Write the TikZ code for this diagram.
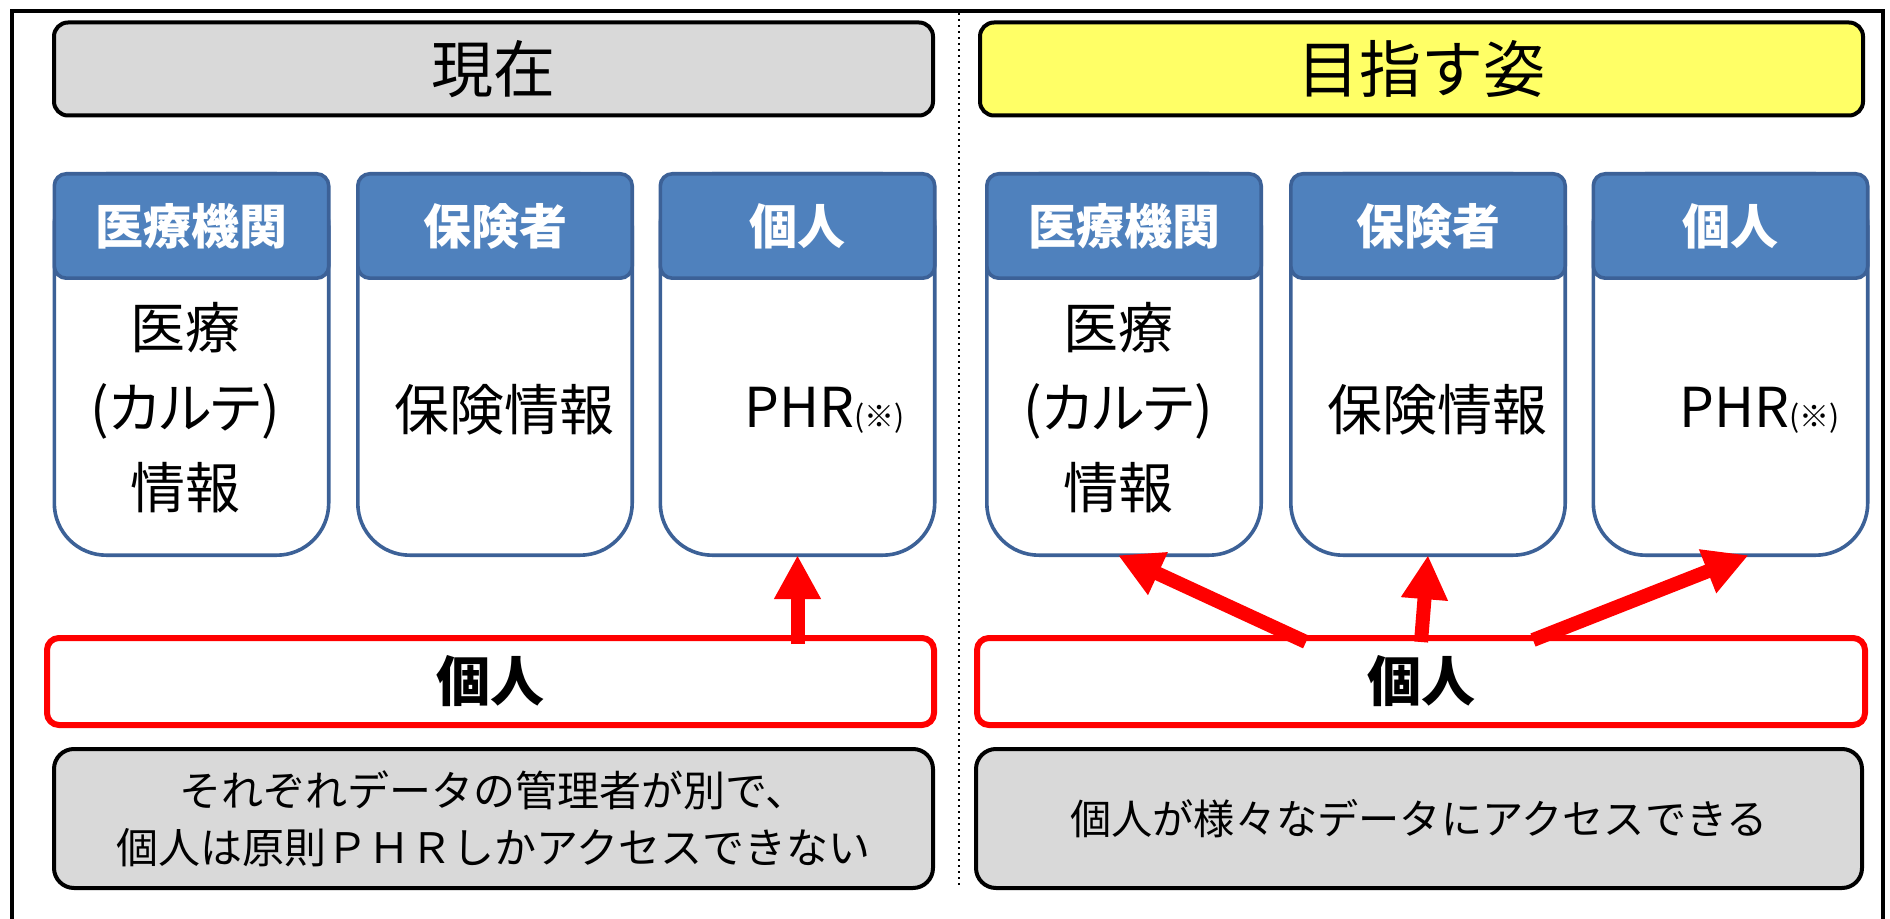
\documentclass[tikz,border=0pt]{standalone}
\usepackage{fontspec}
\setmainfont{Noto Sans CJK JP}
\newfontfamily\jpprop[RawFeature=+palt]{Noto Sans CJK JP}
\usetikzlibrary{arrows.meta,calc}
\definecolor{hdrblue}{HTML}{4F81BD}
\definecolor{edgeblue}{HTML}{3C6197}
\definecolor{boxgray}{HTML}{D9D9D9}
\definecolor{titleyellow}{HTML}{FFFF66}
\definecolor{pured}{HTML}{FF0000}
\newcommand{\fsz}[2]{\fontsize{#1}{#2}\selectfont}
\begin{document}
\begin{tikzpicture}[x=0.5pt,y=-0.5pt,
  every node/.style={inner sep=0pt,outer sep=0pt},
  titlebox/.style={draw=black,line width=2pt,rounded corners=7pt,
    minimum height=46.5pt,font=\fsz{31pt}{31pt}},
  colbody/.style={draw=edgeblue,line width=1.8pt,fill=white,rounded corners=26pt,
    minimum width=137.2pt,minimum height=190.7pt},
  colhead/.style={draw=edgeblue,line width=1.8pt,fill=hdrblue,rounded corners=6pt,
    minimum width=137.2pt,minimum height=52.2pt,text=white,font=\fsz{24pt}{24pt}\bfseries},
  bodytext/.style={font=\fsz{27.5pt}{40pt},align=center},
  personbox/.style={draw=pured,line width=3pt,rounded corners=6pt,fill=white,
    minimum height=43.5pt,font=\fsz{27pt}{27pt}\bfseries},
  notebox/.style={draw=black,line width=2pt,rounded corners=10pt,fill=boxgray,
    minimum height=69.5pt,align=center},
  redarrow/.style={draw=pured,line width=7pt,-{Triangle[width=22pt,length=22pt]}}
]
\useasboundingbox (0,0) rectangle (1890,919);
% outer frame and divider
\draw[line width=2pt] (12,940) -- (12,11) -- (1883,11) -- (1883,940);
\draw[dotted,line width=1pt] (959,13) -- (959,888);
% titles
\node[titlebox,fill=boxgray,minimum width=439.5pt] (t1) at (493.5,69) {現在};
\node[titlebox,fill=titleyellow,minimum width=441.5pt] (t2) at (1421.5,69) {目指す姿};
% columns, left
\node[colbody] (b1) at (191.5,364.5) {};
\node[colbody] (b2) at (495,364.5) {};
\node[colbody] (b3) at (797.5,364.5) {};
\node[colhead] (h1) at (191.5,226) {医療機関};
\node[colhead] (h2) at (495,226) {保険者};
\node[colhead] (h3) at (797.5,226) {個人};
% columns, right
\node[colbody] (b4) at (1124,364.5) {};
\node[colbody] (b5) at (1428,364.5) {};
\node[colbody] (b6) at (1730.5,364.5) {};
\node[colhead] (h4) at (1124,226) {医療機関};
\node[colhead] (h5) at (1428,226) {保険者};
\node[colhead] (h6) at (1730.5,226) {個人};
% body texts
\node[bodytext] (m1) at (185,408) {医療\\({\jpprop カルテ})\\情報};
\node[bodytext] (i1) at (504,410) {保険情報};
\node[bodytext] (p1) at (825,410) {PHR{\fsz{15pt}{15pt}(※)}};
\node[bodytext] (m2) at (1118,408) {医療\\({\jpprop カルテ})\\情報};
\node[bodytext] (i2) at (1437,410) {保険情報};
\node[bodytext] (p2) at (1760,410) {PHR{\fsz{15pt}{15pt}(※)}};
% individual boxes
\node[personbox,minimum width=443.5pt] (ind1) at (490.5,681.5) {個人};
\node[personbox,minimum width=444pt] (ind2) at (1421,681.5) {個人};
% note boxes
\node[notebox,minimum width=439.5pt,font=\fsz{21pt}{28.5pt}] (n1) at (493.5,818.5) {それぞれデータの管理者が別で、\\個人は原則ＰＨＲしかアクセスできない};
\node[notebox,minimum width=443pt,font=\fsz{20.6pt}{28.5pt}] (n2) at (1419,818.5) {個人が様々なデータにアクセスできる};
% arrows
\draw[redarrow] ($(b3.south |- ind1.north)+(0,6)$) -- (b3.south);
\draw[redarrow] ($(ind2.north)+(-115,4)$) -- ($(b4.south)+(-6,0)$);
\draw[redarrow] ($(ind2.north)+(0,4)$) -- (b5.south);
\draw[redarrow] ($(ind2.north)+(112,2)$) -- ($(b6.south)+(18,0)$);
\end{tikzpicture}
\end{document}
